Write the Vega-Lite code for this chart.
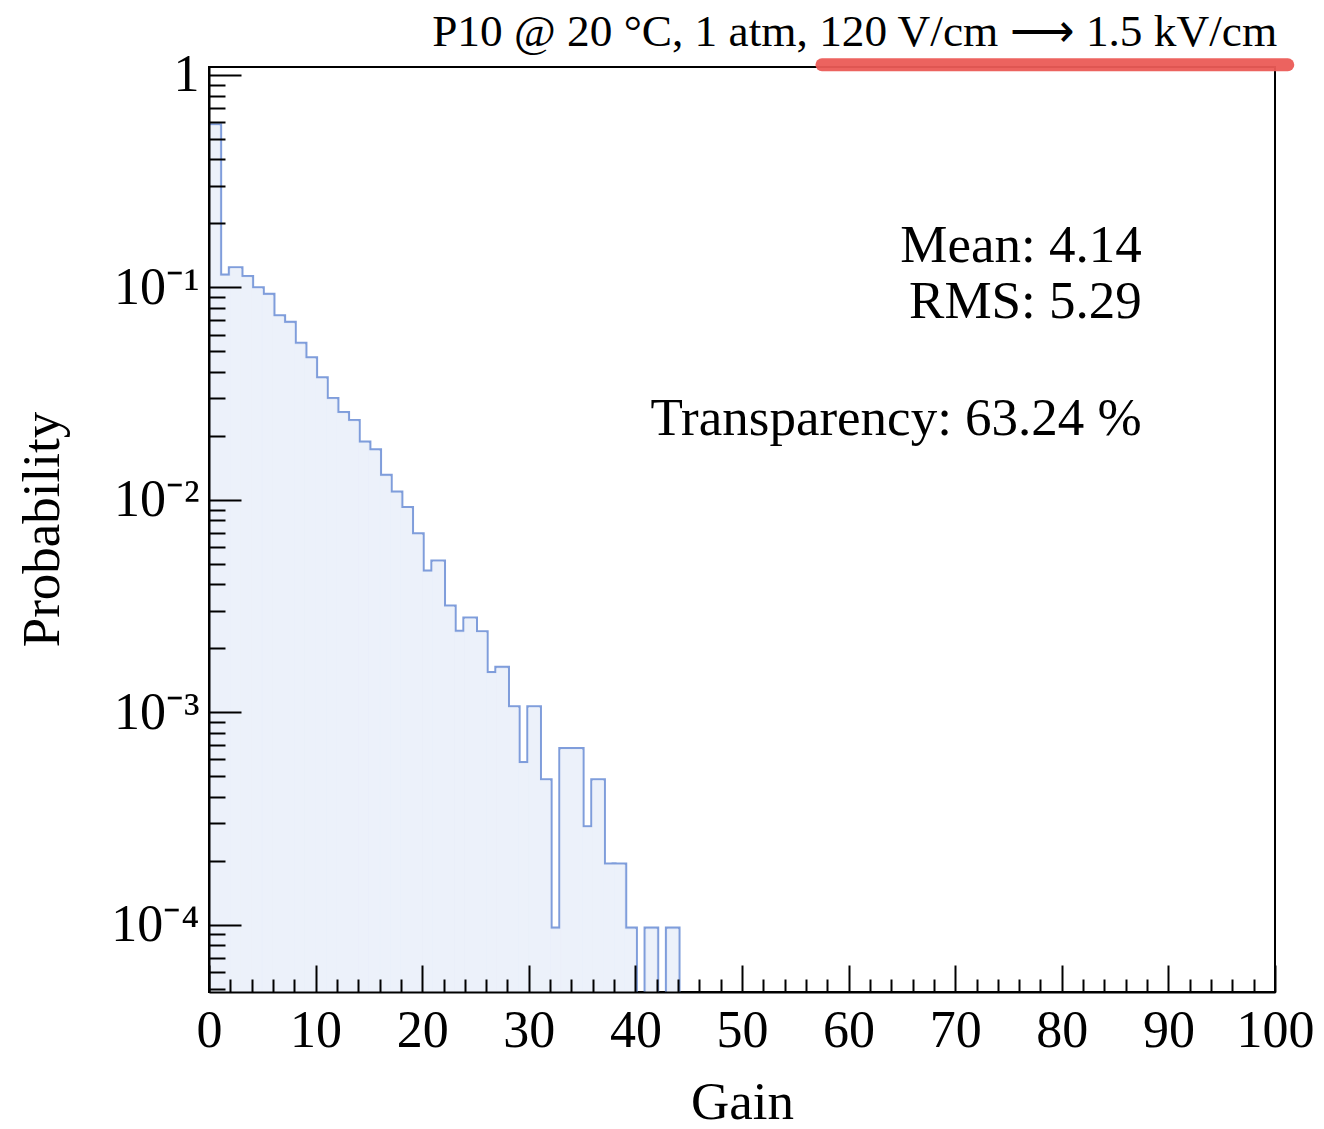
{
  "$schema": "https://vega.github.io/schema/vega-lite/v6.json",
  "width": 1066,
  "height": 925,
  "autosize": {"type": "none"},
  "padding": {"left": 209, "top": 67, "right": 49, "bottom": 137},
  "background": "white",
  "config": {
    "view": {"stroke": "black", "strokeWidth": 2},
    "font": "Liberation Serif"
  },
  "datasets": {
    "hist": [
      {"lo": 0, "hi": 1, "p": 0.577},
      {"lo": 1, "hi": 2, "p": 0.113},
      {"lo": 2, "hi": 3, "p": 0.1225},
      {"lo": 3, "hi": 4, "p": 0.1114},
      {"lo": 4, "hi": 5, "p": 0.0985},
      {"lo": 5, "hi": 6, "p": 0.0917},
      {"lo": 6, "hi": 7, "p": 0.0727},
      {"lo": 7, "hi": 8, "p": 0.0677},
      {"lo": 8, "hi": 9, "p": 0.054},
      {"lo": 9, "hi": 10, "p": 0.0461},
      {"lo": 10, "hi": 11, "p": 0.0371},
      {"lo": 11, "hi": 12, "p": 0.0297},
      {"lo": 12, "hi": 13, "p": 0.0255},
      {"lo": 13, "hi": 14, "p": 0.0234},
      {"lo": 14, "hi": 15, "p": 0.0185},
      {"lo": 15, "hi": 16, "p": 0.017},
      {"lo": 16, "hi": 17, "p": 0.0129},
      {"lo": 17, "hi": 18, "p": 0.01076},
      {"lo": 18, "hi": 19, "p": 0.0091},
      {"lo": 19, "hi": 20, "p": 0.00684},
      {"lo": 20, "hi": 21, "p": 0.00457},
      {"lo": 21, "hi": 22, "p": 0.0051},
      {"lo": 22, "hi": 23, "p": 0.00313},
      {"lo": 23, "hi": 24, "p": 0.00238},
      {"lo": 24, "hi": 25, "p": 0.00275},
      {"lo": 25, "hi": 26, "p": 0.00237},
      {"lo": 26, "hi": 27, "p": 0.00152},
      {"lo": 27, "hi": 28, "p": 0.00161},
      {"lo": 28, "hi": 29, "p": 0.00105},
      {"lo": 29, "hi": 30, "p": 0.000573},
      {"lo": 30, "hi": 31, "p": 0.00105},
      {"lo": 31, "hi": 32, "p": 0.000476},
      {"lo": 32, "hi": 33, "p": 0.0000953},
      {"lo": 33, "hi": 34, "p": 0.000667},
      {"lo": 34, "hi": 35, "p": 0.000667},
      {"lo": 35, "hi": 36, "p": 0.000286},
      {"lo": 36, "hi": 37, "p": 0.000476},
      {"lo": 37, "hi": 38, "p": 0.000191},
      {"lo": 38, "hi": 39, "p": 0.000191},
      {"lo": 39, "hi": 40, "p": 0.0000953},
      {"lo": 41, "hi": 42, "p": 0.0000953},
      {"lo": 43, "hi": 44, "p": 0.0000953}
    ]
  },
  "layer": [
    {
      "data": {"name": "hist"},
      "mark": {"type": "bar", "fill": "#ecf1fa", "stroke": "#7f9ddb", "strokeWidth": 5, "clip": true},
      "encoding": {
        "x": {
          "field": "lo", "type": "quantitative",
          "scale": {"domain": [0, 100], "nice": false, "zero": false},
          "axis": {
            "orient": "bottom",
            "values": [0, 10, 20, 30, 40, 50, 60, 70, 80, 90, 100],
            "tickSize": -27, "tickWidth": 2, "tickColor": "black",
            "domainColor": "black", "domainWidth": 2,
            "grid": false, "zindex": 1,
            "labelFont": "Liberation Serif", "labelFontSize": 52, "labelColor": "black",
            "labelPadding": 40, "labelFlush": false, "labelOverlap": false,
            "title": "Gain",
            "titleFont": "Liberation Serif", "titleFontSize": 53, "titleFontWeight": "normal", "titleColor": "black",
            "titleBaseline": "alphabetic", "titleAlign": "center", "titleX": 533, "titleY": 126
          }
        },
        "x2": {"field": "hi"},
        "y": {
          "field": "p", "type": "quantitative",
          "scale": {"type": "log", "domain": [0.0000482, 1.09], "nice": false},
          "axis": {
            "orient": "left",
            "values": [0.0001, 0.001, 0.01, 0.1, 1],
            "labelExpr": "datum.value > 0.5 ? '1' : datum.value > 0.05 ? '10⁻¹' : datum.value > 0.005 ? '10⁻²' : datum.value > 0.0005 ? '10⁻³' : '10⁻⁴'",
            "tickSize": -32, "tickWidth": 2, "tickColor": "black",
            "domainColor": "black", "domainWidth": 2,
            "grid": false, "zindex": 1,
            "labelFont": "Liberation Serif", "labelFontSize": 52, "labelColor": "black",
            "labelPadding": 42, "labelFlush": false, "labelOverlap": false, "labelBaseline": "middle",
            "title": "Probability",
            "titleFont": "Liberation Serif", "titleFontSize": 53, "titleFontWeight": "normal", "titleColor": "black",
            "titleAngle": -90, "titleBaseline": "alphabetic", "titleAlign": "center", "titleX": -151, "titleY": 462
          }
        },
        "y2": {"datum": 0.0000482}
      }
    },
    {
      "data": {"name": "hist"},
      "mark": {"type": "bar", "fill": "#ecf1fa", "stroke": "#ecf1fa", "strokeWidth": 1, "clip": true},
      "encoding": {
        "x": {
          "field": "lo", "type": "quantitative",
          "axis": {
            "orient": "bottom",
            "values": [2, 4, 6, 8, 12, 14, 16, 18, 22, 24, 26, 28, 32, 34, 36, 38, 42, 44, 46, 48, 52, 54, 56, 58, 62, 64, 66, 68, 72, 74, 76, 78, 82, 84, 86, 88, 92, 94, 96, 98],
            "tickSize": -13, "tickWidth": 2, "tickColor": "black",
            "domain": false, "labels": false, "grid": false, "title": null, "zindex": 1
          }
        },
        "x2": {"field": "hi"},
        "y": {
          "field": "p", "type": "quantitative",
          "axis": {
            "orient": "left",
            "values": [0.00005, 0.00006, 0.00007, 0.00008, 0.00009,
                       0.0002, 0.0003, 0.0004, 0.0005, 0.0006, 0.0007, 0.0008, 0.0009,
                       0.002, 0.003, 0.004, 0.005, 0.006, 0.007, 0.008, 0.009,
                       0.02, 0.03, 0.04, 0.05, 0.06, 0.07, 0.08, 0.09,
                       0.2, 0.3, 0.4, 0.5, 0.6, 0.7, 0.8, 0.9],
            "tickSize": -16, "tickWidth": 2, "tickColor": "black",
            "domain": false, "labels": false, "grid": false, "title": null, "zindex": 1
          }
        },
        "y2": {"datum": 0.0000482}
      }
    },
    {
      "data": {"values": [{}]},
      "mark": {"type": "text", "align": "right", "baseline": "alphabetic", "font": "Liberation Serif", "fontSize": 53, "color": "black"},
      "encoding": {
        "x": {"datum": 87.5, "type": "quantitative", "axis": null},
        "y": {"datum": 0.131, "type": "quantitative", "axis": null},
        "text": {"value": "Mean: 4.14"}
      }
    },
    {
      "data": {"values": [{}]},
      "mark": {"type": "text", "align": "right", "baseline": "alphabetic", "font": "Liberation Serif", "fontSize": 53, "color": "black"},
      "encoding": {
        "x": {"datum": 87.5, "type": "quantitative", "axis": null},
        "y": {"datum": 0.0716, "type": "quantitative", "axis": null},
        "text": {"value": "RMS: 5.29"}
      }
    },
    {
      "data": {"values": [{}]},
      "mark": {"type": "text", "align": "right", "baseline": "alphabetic", "font": "Liberation Serif", "fontSize": 53, "color": "black"},
      "encoding": {
        "x": {"datum": 87.5, "type": "quantitative", "axis": null},
        "y": {"datum": 0.0201, "type": "quantitative", "axis": null},
        "text": {"value": "Transparency: 63.24 %"}
      }
    },
    {
      "data": {"values": [{}]},
      "mark": {"type": "rule", "color": "#eb5b56", "strokeWidth": 13, "strokeCap": "round", "opacity": 0.95, "clip": false},
      "encoding": {
        "x": {"datum": 57.5, "type": "quantitative", "axis": null},
        "x2": {"datum": 101.2},
        "y": {"datum": 1.117, "type": "quantitative", "axis": null}
      }
    },
    {
      "data": {"values": [{}]},
      "mark": {"type": "text", "align": "right", "baseline": "alphabetic", "font": "Liberation Serif", "fontSize": 45.3, "color": "black", "clip": false},
      "encoding": {
        "x": {"datum": 100.2, "type": "quantitative", "axis": null},
        "y": {"datum": 1.365, "type": "quantitative", "axis": null},
        "text": {"value": "P10 @ 20 °C, 1 atm, 120 V/cm ⟶ 1.5 kV/cm"}
      }
    }
  ],
  "resolve": {"axis": {"x": "independent", "y": "independent"}}
}
